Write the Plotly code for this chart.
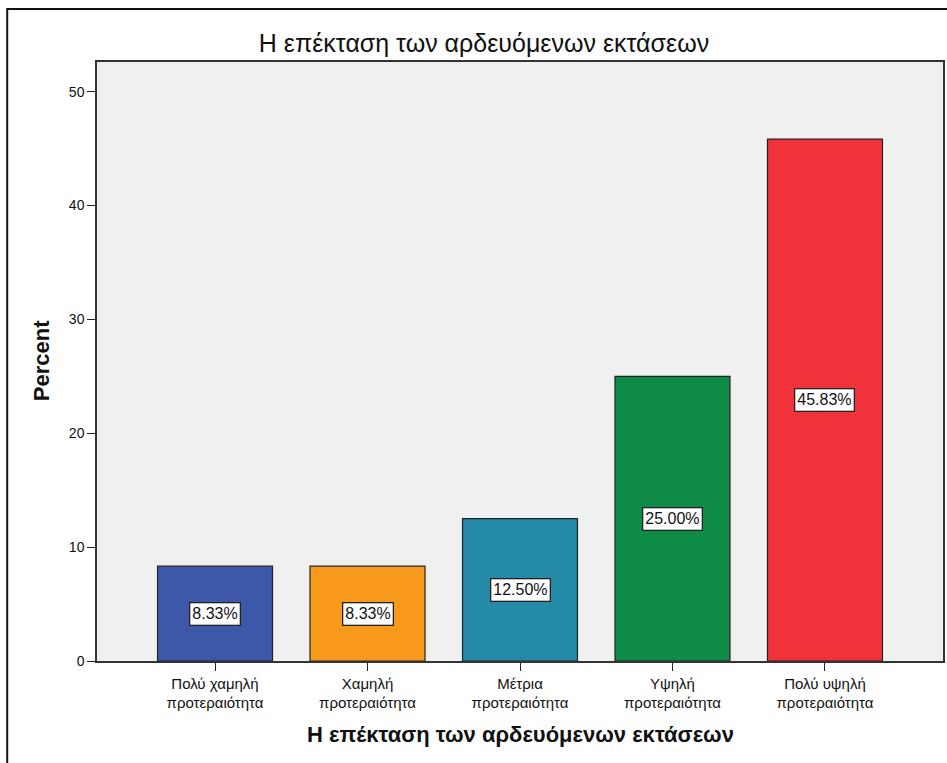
import plotly.graph_objects as go

categories = ["Πολύ χαμηλή<br>προτεραιότητα", "Χαμηλή<br>προτεραιότητα", "Μέτρια<br>προτεραιότητα",
              "Υψηλή<br>προτεραιότητα", "Πολύ υψηλή<br>προτεραιότητα"]
percent = [8.33, 8.33, 12.50, 25.00, 45.83]
labels = ["8.33%", "8.33%", "12.50%", "25.00%", "45.83%"]
colors = ["#3d58a8", "#f99a1d", "#248aa8", "#0e8c47", "#f0323a"]
y_ticks = [0, 10, 20, 30, 40, 50]

W, H = 947, 763
L, R, T, B = 97, 2, 62, 102
pw, ph = W - L - R, H - T - B
FONT = "Liberation Sans, Arial, sans-serif"

def px_x(x):
    return (x - L) / pw

def px_y(y):
    return (H - B - y) / ph

fig = go.Figure()
fig.add_trace(go.Bar(
    x=list(range(len(categories))), y=percent,
    marker=dict(color=colors, line=dict(color="#222222", width=1.2)),
    width=0.754, hoverinfo="skip", showlegend=False,
))

for i, (v, t) in enumerate(zip(percent, labels)):
    fig.add_annotation(x=i, y=v / 2, text=t, showarrow=False,
                       font=dict(family=FONT, size=16, color="#111111"),
                       bgcolor="white", bordercolor="#222222", borderwidth=1.3, borderpad=2)

# axis titles
fig.add_annotation(xref="paper", yref="paper", x=px_x(521), y=px_y(734),
                   text="<b>Η επέκταση των αρδευόμενων εκτάσεων</b>", showarrow=False,
                   xanchor="center", yanchor="middle",
                   font=dict(family=FONT, size=22, color="#111111"))
fig.add_annotation(xref="paper", yref="paper", x=px_x(41), y=px_y(361),
                   text="<b>Percent</b>", showarrow=False, textangle=-90,
                   xanchor="center", yanchor="middle",
                   font=dict(family=FONT, size=22, color="#111111"))

# outer frame
fig.add_shape(type="rect", xref="paper", yref="paper",
              x0=px_x(7), x1=px_x(960),
              y0=px_y(780), y1=px_y(9),
              line=dict(color="#111111", width=2), layer="above")

fig.update_layout(
    width=W, height=H,
    margin=dict(l=L, r=R, t=T, b=B),
    paper_bgcolor="white", plot_bgcolor="#f0f0f0",
    title=dict(text="Η επέκταση των αρδευόμενων εκτάσεων", x=484 / W, xanchor="center",
               y=1 - 43 / H, yanchor="middle",
               font=dict(family=FONT, size=25, color="#111111")),
    font=dict(family=FONT, color="#111111"),
)
fig.update_xaxes(
    range=[-0.774, 4.774], tickmode="array", tickvals=list(range(len(categories))),
    ticktext=categories, ticks="outside", ticklen=8, tickcolor="#222222",
    tickfont=dict(family=FONT, size=15, color="#111111"), showgrid=False, zeroline=False,
    showline=True, linecolor="#333333", linewidth=1.5, mirror=True,
)
fig.update_yaxes(
    range=[0, 52.6], tickvals=y_ticks, ticks="outside", ticklen=8, tickcolor="#222222",
    tickfont=dict(family=FONT, size=14, color="#111111"), showgrid=False, zeroline=False,
    showline=True, linecolor="#333333", linewidth=1.5, mirror=True,
)

fig.write_html("out.html", config={"displayModeBar": False},
               post_script="document.body.style.margin='0';document.body.style.overflow='hidden';")
